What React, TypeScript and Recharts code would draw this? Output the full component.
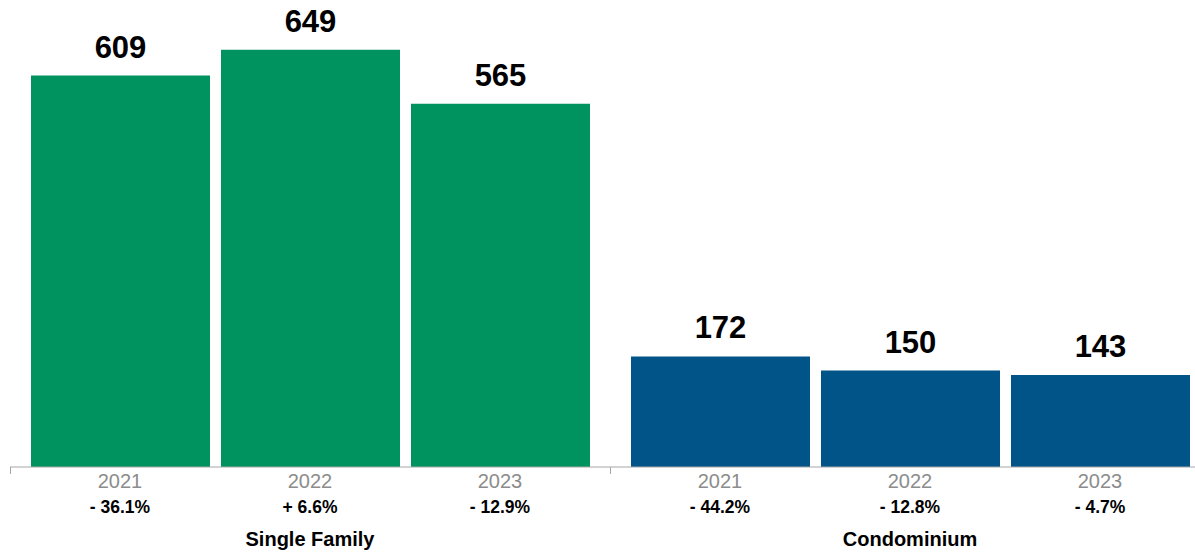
import React from 'react';
import { BarChart, Bar, XAxis, YAxis, LabelList } from 'recharts';

const years = ['2021', '2022', '2023'];
const singleFamilyValues = [609, 649, 565];
const condoValues = [172, 150, 143];
const singleFamilyChange = ['- 36.1%', '+ 6.6%', '- 12.9%'];
const condoChange = ['- 44.2%', '- 12.8%', '- 4.7%'];
const groupNames = ['Single Family', 'Condominium'];
const groupColors = ['#00935F', '#005487'];

const FONT = '"Liberation Sans", Arial, Helvetica, sans-serif';
const AXIS_COLOR = '#a6a6a6';

type GroupProps = {
  values: number[];
  changes: string[];
  name: string;
  color: string;
  left: number;
};

const makeTick = (changes: string[], name: string) => (props: any) => {
  const { x, y, payload, index } = props;
  const i = payload?.index ?? index;
  return (
    <g>
      <text x={x} y={y + 21} textAnchor="middle" fontFamily={FONT} fontSize={20} fill="#8c8c8c">
        {payload.value}
      </text>
      <text x={x} y={y + 46} textAnchor="middle" fontFamily={FONT} fontSize={17.5} fontWeight="bold" fill="#000">
        {changes[i]}
      </text>
      {i === 1 ? (
        <text x={x} y={y + 79} textAnchor="middle" fontFamily={FONT} fontSize={20} fontWeight="bold" fill="#000">
          {name}
        </text>
      ) : null}
    </g>
  );
};

const GroupChart = ({ values, changes, name, color, left }: GroupProps) => {
  const data = years.map((yr, i) => ({ year: yr, value: values[i] }));
  return (
    <div style={{ position: 'absolute', left, top: 0, width: 600, height: 553 }}>
      <BarChart width={600} height={553} data={data} margin={{ top: 17, right: 0, bottom: 0, left: 0 }}>
        <YAxis hide domain={[0, 700]} />
        <XAxis
          dataKey="year"
          height={86}
          padding={{ left: 15, right: 15 }}
          tickLine={false}
          tickSize={0}
          tickMargin={0}
          axisLine={{ stroke: AXIS_COLOR, strokeWidth: 1 }}
          tick={makeTick(changes, name)}
          interval={0}
        />
        <Bar dataKey="value" fill={color} barSize={179} isAnimationActive={false}>
          <LabelList
            dataKey="value"
            position="top"
            offset={18}
            fill="#000"
            fontSize={31}
            fontWeight="bold"
            fontFamily={FONT}
          />
        </Bar>
      </BarChart>
      <div style={{ position: 'absolute', left: 0, top: 467, width: 1, height: 7, background: AXIS_COLOR }} />
    </div>
  );
};

export default function App() {
  return (
    <div
      style={{
        position: 'absolute',
        left: 0,
        top: 0,
        width: 1195,
        height: 553,
        overflow: 'hidden',
        background: '#fff',
      }}
    >
      <GroupChart values={singleFamilyValues} changes={singleFamilyChange} name={groupNames[0]} color={groupColors[0]} left={10} />
      <GroupChart values={condoValues} changes={condoChange} name={groupNames[1]} color={groupColors[1]} left={610} />
    </div>
  );
}
